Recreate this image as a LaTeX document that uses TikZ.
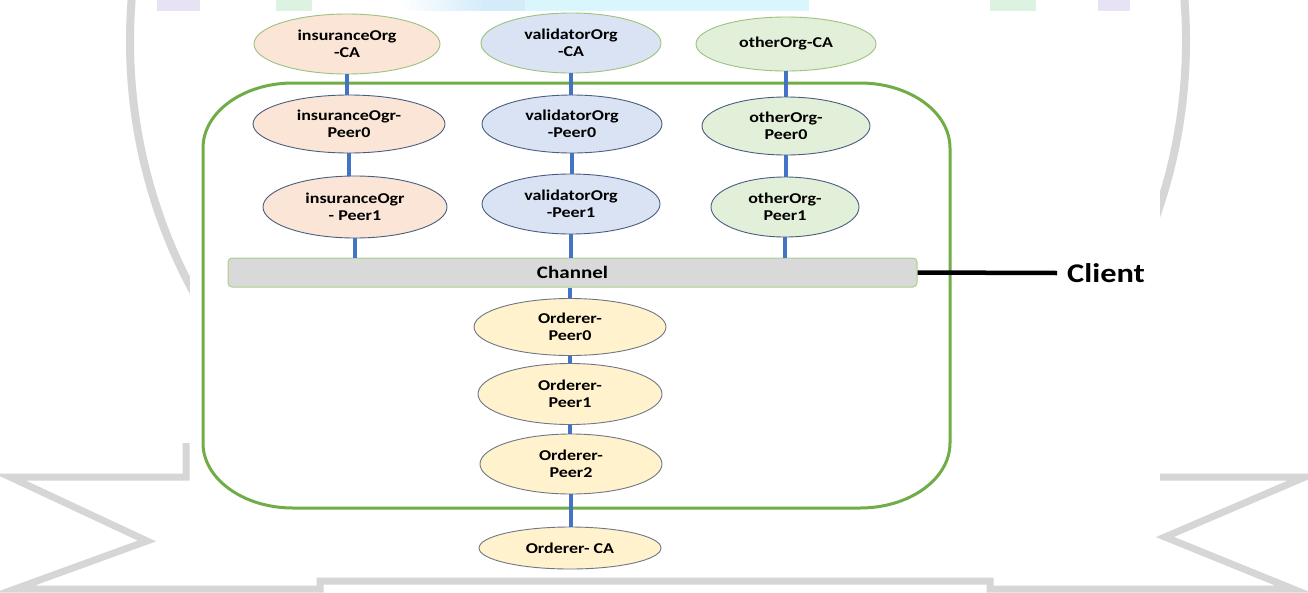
\documentclass[tikz,border=0pt]{standalone}
\usepackage{fontspec}
\newfontfamily\lab{Carlito}[FakeStretch=1.2]
\usetikzlibrary{shapes.geometric}
\definecolor{insfill}{HTML}{FBE5D6}
\definecolor{valfill}{HTML}{DAE3F3}
\definecolor{othfill}{HTML}{E2F0D9}
\definecolor{ordfill}{HTML}{FFF2CC}
\definecolor{cagreen}{HTML}{9CC27E}
\definecolor{peerblue}{HTML}{4A5D80}
\definecolor{ordgray}{HTML}{6E7787}
\definecolor{linkblue}{HTML}{4472C4}
\definecolor{boxgreen}{HTML}{70AD47}
\definecolor{chfill}{HTML}{D9D9D9}
\definecolor{chgreen}{HTML}{A9D18E}
\definecolor{wmgray}{HTML}{D6D6D6}
\definecolor{wmGreen}{HTML}{DDF3E2}
\definecolor{wmBlue}{HTML}{D4ECFA}
\definecolor{wmCyan}{HTML}{D8F6FB}
\definecolor{wmLav}{HTML}{E8E3F4}
\begin{document}
\begin{tikzpicture}[x=1pt,y=1pt,
  nd/.style={ellipse, draw, line width=0.9pt, inner sep=0pt, align=center,
    font=\lab\bfseries\fontsize{15}{17.5}\selectfont, text=black},
  ins/.style={nd, fill=insfill},
  val/.style={nd, fill=valfill},
  oth/.style={nd, fill=othfill},
  ord/.style={nd, fill=ordfill, draw=ordgray},
  ca/.style={draw=cagreen},
  peer/.style={draw=peerblue},
  link/.style={draw=linkblue, line width=3.6pt},
  wm/.style={draw=wmgray, line width=7pt, line join=miter}]

\useasboundingbox (0,0) rectangle (1308,-592);
\fill[white] (0,0) rectangle (1308,-592);

% background watermark remnants
\fill[wmLav] (157,0) rectangle (200,-11);
\fill[wmGreen] (276,0) rectangle (312,-11);
\shade[left color=white, right color=wmBlue] (400,0) rectangle (483,-11);
\fill[wmBlue] (483,0) rectangle (525,-11);
\fill[wmCyan] (525,0) rectangle (809,-11);
\fill[wmGreen] (990,0) rectangle (1036,-11);
\fill[wmLav] (1098,0) rectangle (1130,-11);
\draw[wm, line width=8pt] (658,-41) circle[radius=528];
\fill[white] (190,-11) rectangle (1160,-578);
\draw[wm] (186,-443) -- (186,-477) -- (10,-477) -- (147,-541) -- (15,-589)
  -- (320,-589) -- (320,-581) -- (990,-581) -- (990,-589) -- (1293,-589)
  -- (1165,-537) -- (1305,-477) -- (1160,-477);

% container
\draw[boxgreen, line width=3pt]
  (293,-83) -- (860,-83) arc[start angle=90, end angle=0, x radius=90pt, y radius=65pt]
  -- (950,-443) arc[start angle=0, end angle=-90, x radius=90pt, y radius=65pt]
  -- (293,-508) arc[start angle=-90, end angle=-180, x radius=90pt, y radius=65pt]
  -- (203,-148) arc[start angle=180, end angle=90, x radius=90pt, y radius=65pt]
  -- cycle;

% organisation nodes
\node[ins, ca, minimum width=186pt, minimum height=60pt] (iCA) at (347,-44) {insuranceOrg\\-CA};
\node[val, ca, minimum width=180pt, minimum height=60pt] (vCA) at (571,-43) {validatorOrg\\-CA};
\node[oth, ca, minimum width=180pt, minimum height=54pt] (oCA) at (786,-44) {otherOrg-CA};

\node[ins, peer, minimum width=192pt, minimum height=58pt] (iP0) at (349,-124) {insuranceOgr-\\Peer0};
\node[val, peer, minimum width=180pt, minimum height=58pt] (vP0) at (572,-124) {validatorOrg\\-Peer0};
\node[oth, peer, minimum width=168pt, minimum height=58pt] (oP0) at (786,-126) {otherOrg-\\Peer0};

\node[ins, peer, minimum width=184pt, minimum height=62pt] (iP1) at (355,-207) {insuranceOgr\\- Peer1};
\node[val, peer, minimum width=178pt, minimum height=60pt] (vP1) at (571,-204) {validatorOrg\\-Peer1};
\node[oth, peer, minimum width=148pt, minimum height=60pt] (oP1) at (785,-207) {otherOrg-\\Peer1};

% channel
\node[rectangle, rounded corners=4pt, draw=chgreen, fill=chfill, line width=1pt,
  minimum width=689pt, minimum height=29pt, inner sep=0pt,
  font=\lab\bfseries\fontsize{17.5}{20}\selectfont] (channel) at (572.5,-272.5) {Channel};

% orderers
\node[ord, minimum width=192pt, minimum height=57pt] (r0) at (570,-327) {Orderer-\\Peer0};
\node[ord, minimum width=184pt, minimum height=61pt] (r1) at (570,-394) {Orderer-\\Peer1};
\node[ord, minimum width=182pt, minimum height=60pt] (r2) at (571,-464) {Orderer-\\Peer2};
\node[ord, minimum width=182pt, minimum height=42pt] (rCA) at (570,-548) {Orderer- CA};

% client
\node[inner sep=0pt, anchor=west, font=\lab\bfseries\fontsize{27}{30}\selectfont] (client) at (1067,-273) {Client};
\draw[line width=4.5pt] (channel.east) -- ([xshift=-10pt]client.west);

% connectors
\draw[link] (iCA.south) -- (iCA.south |- iP0.north);
\draw[link] (vCA.south) -- (vCA.south |- vP0.north);
\draw[link] (oCA.south) -- (oCA.south |- oP0.north);
\draw[link] (iP0.south) -- (iP0.south |- iP1.north);
\draw[link] (vP0.south) -- (vP0.south |- vP1.north);
\draw[link] (oP0.south) -- (oP0.south |- oP1.north);
\draw[link] (iP1.south) -- (iP1.south |- channel.north);
\draw[link] (vP1.south) -- (vP1.south |- channel.north);
\draw[link] (oP1.south) -- (oP1.south |- channel.north);
\draw[link] (r0.north |- channel.south) -- (r0.north);
\draw[link] (r0.south) -- (r0.south |- r1.north);
\draw[link] (r1.south) -- (r1.south |- r2.north);
\draw[link] (r2.south) -- (r2.south |- rCA.north);
\end{tikzpicture}
\end{document}
